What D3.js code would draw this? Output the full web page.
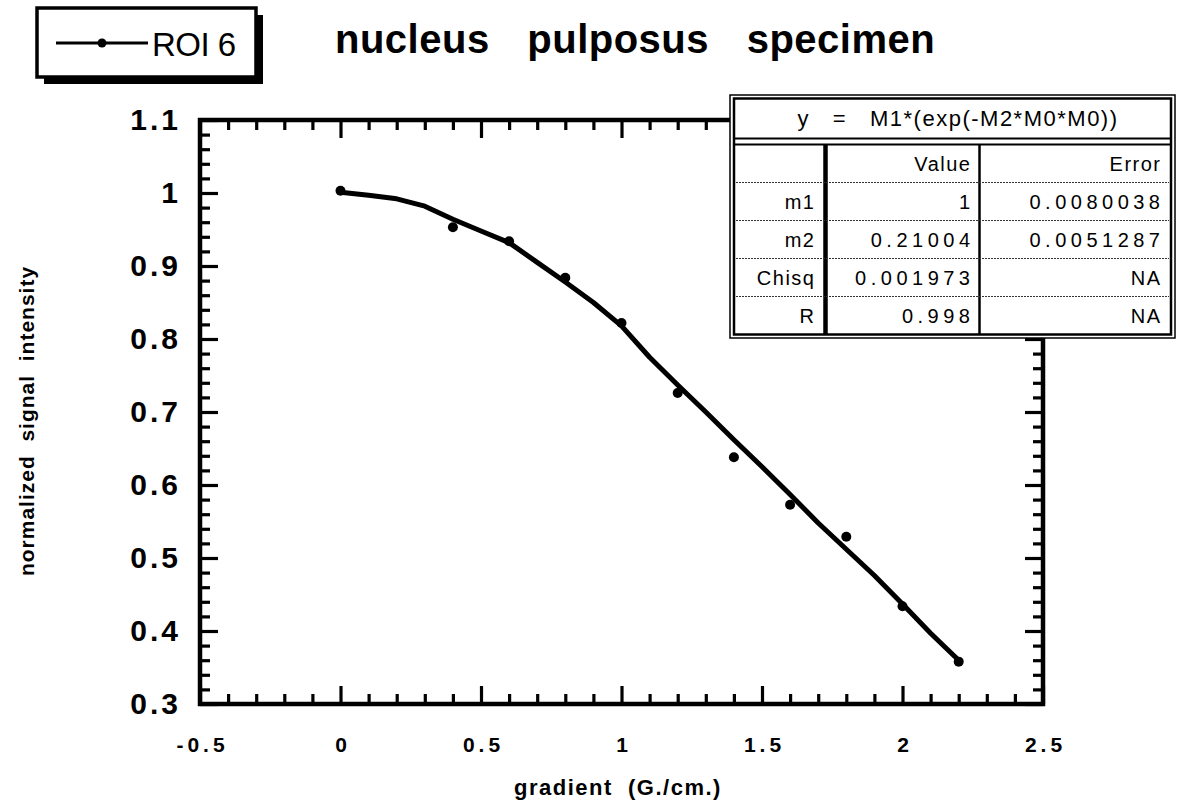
<!DOCTYPE html>
<html>
<head>
<meta charset="utf-8">
<script src="https://cdn.jsdelivr.net/npm/d3@7"></script>
<style>
  body { margin: 0; background: #fff; }
  svg { display: block; font-family: "Liberation Sans", Arial, Helvetica, sans-serif; }
</style>
</head>
<body>
<div id="chart"></div>
<script>
// measured points (gradient G/cm, normalized signal)
const gradient = [0, 0.4, 0.6, 0.8, 1.0, 1.2, 1.4, 1.6, 1.8, 2.0, 2.2];
const signal = [1.003, 0.953, 0.934, 0.884, 0.822, 0.726, 0.638, 0.573, 0.529, 0.434, 0.358];
// fitted curve
const fitX = [0, 0.1, 0.2, 0.3, 0.4, 0.5, 0.6, 0.7, 0.8, 0.9, 1.0, 1.1, 1.2, 1.3, 1.4, 1.5, 1.6, 1.7, 1.8, 1.9, 2.0, 2.1, 2.2];
const fitY = [1.001, 0.997, 0.992, 0.982, 0.964, 0.948, 0.932, 0.905, 0.878, 0.850, 0.818, 0.775, 0.737, 0.700, 0.662, 0.625, 0.587, 0.548, 0.512, 0.476, 0.437, 0.397, 0.360];

const xTicks = [-0.5, 0, 0.5, 1, 1.5, 2, 2.5];
const xTickLabels = ["-0.5", "0", "0.5", "1", "1.5", "2", "2.5"];
const yTicks = [0.3, 0.4, 0.5, 0.6, 0.7, 0.8, 0.9, 1.0, 1.1];
const yTickLabels = ["0.3", "0.4", "0.5", "0.6", "0.7", "0.8", "0.9", "1", "1.1"];

// fit table
const fitEquation = "y   =   M1*(exp(-M2*M0*M0))";
const tableCols = ["", "Value", "Error"];
const paramNames = ["m1", "m2", "Chisq", "R"];
const paramValues = ["1", "0.21004", "0.001973", "0.998"];
const paramErrors = ["0.0080038", "0.0051287", "NA", "NA"];

const W = 1180, H = 803;
const svg = d3.select("#chart").append("svg").attr("width", W).attr("height", H);

const x = d3.scaleLinear().domain([-0.5, 2.5]).range([200, 1043]);
const y = d3.scaleLinear().domain([0.3, 1.1]).range([704, 120]);

const xMinor = x.ticks(30).filter(d => !xTicks.some(t => Math.abs(t - d) < 1e-6));
const yMinor = y.ticks(40).filter(d => !yTicks.some(t => Math.abs(t - d) < 1e-6));

function styleAxis(g) {
  g.select(".domain").remove();
  g.selectAll(".tick line").attr("stroke", "#000").attr("stroke-width", 3.2);
}

// major ticks + labels
svg.append("g").attr("transform", "translate(0,704)")
  .call(d3.axisBottom(x).tickValues(xTicks).tickSize(-18).tickPadding(33).tickFormat((d, i) => xTickLabels[i]))
  .call(styleAxis)
  .selectAll("text").attr("font-size", 21).attr("font-weight", "bold").attr("fill", "#000")
  .attr("font-family", "Liberation Sans, Arial, sans-serif").style("letter-spacing", "4px").attr("dx", 2);
svg.append("g").attr("transform", "translate(0,120)")
  .call(d3.axisTop(x).tickValues(xTicks).tickSize(-18).tickFormat(""))
  .call(styleAxis);
svg.append("g").attr("transform", "translate(200,0)")
  .call(d3.axisLeft(y).tickValues(yTicks).tickSize(-18).tickPadding(19).tickFormat((d, i) => yTickLabels[i]))
  .call(styleAxis)
  .selectAll("text").attr("font-size", 30).attr("font-weight", "bold").attr("fill", "#000")
  .attr("font-family", "Liberation Sans, Arial, sans-serif").style("letter-spacing", "3px");
svg.append("g").attr("transform", "translate(1043,0)")
  .call(d3.axisRight(y).tickValues(yTicks).tickSize(-18).tickFormat(""))
  .call(styleAxis);

// minor ticks
svg.append("g").attr("transform", "translate(0,704)")
  .call(d3.axisBottom(x).tickValues(xMinor).tickSize(-10).tickFormat("")).call(styleAxis);
svg.append("g").attr("transform", "translate(0,120)")
  .call(d3.axisTop(x).tickValues(xMinor).tickSize(-10).tickFormat("")).call(styleAxis);
svg.append("g").attr("transform", "translate(200,0)")
  .call(d3.axisLeft(y).tickValues(yMinor).tickSize(-10).tickFormat("")).call(styleAxis);
svg.append("g").attr("transform", "translate(1043,0)")
  .call(d3.axisRight(y).tickValues(yMinor).tickSize(-10).tickFormat("")).call(styleAxis);

// frame
svg.append("rect").attr("x", 200).attr("y", 120).attr("width", 843).attr("height", 584)
  .attr("fill", "none").attr("stroke", "#000").attr("stroke-width", 4.5);

// fit line
const line = d3.line().x(d => x(d[0])).y(d => y(d[1]));
svg.append("path").datum(fitX.map((v, i) => [v, fitY[i]]))
  .attr("d", line).attr("fill", "none").attr("stroke", "#000")
  .attr("stroke-width", 5).attr("stroke-linejoin", "round").attr("stroke-linecap", "round");

// points
svg.selectAll(".pt").data(gradient).enter().append("circle")
  .attr("cx", d => x(d)).attr("cy", (d, i) => y(signal[i])).attr("r", 5).attr("fill", "#000");

// axis titles
svg.append("text").attr("x", 618).attr("y", 795).attr("text-anchor", "middle")
  .attr("font-size", 22).attr("font-weight", "bold").style("letter-spacing", "1.5px")
  .attr("xml:space", "preserve").text("gradient  (G./cm.)");
svg.append("text").attr("transform", "translate(34,421) rotate(-90)").attr("text-anchor", "middle")
  .attr("font-size", 21).attr("font-weight", "bold").style("letter-spacing", "1px")
  .attr("xml:space", "preserve").text("normalized  signal  intensity");

// title
svg.append("text").attr("x", 335).attr("y", 53).attr("font-size", 40).attr("font-weight", "bold")
  .style("letter-spacing", "0.5px").style("word-spacing", "26px").text("nucleus pulposus specimen");

// legend box
svg.append("rect").attr("x", 44).attr("y", 15).attr("width", 219).attr("height", 69).attr("fill", "#000");
svg.append("rect").attr("x", 37).attr("y", 8).attr("width", 219).attr("height", 69)
  .attr("fill", "#fff").attr("stroke", "#000").attr("stroke-width", 3.5);
svg.append("line").attr("x1", 56).attr("x2", 148).attr("y1", 43).attr("y2", 43)
  .attr("stroke", "#000").attr("stroke-width", 3);
svg.append("circle").attr("cx", 102).attr("cy", 43).attr("r", 4.5).attr("fill", "#000");
svg.append("text").attr("x", 152).attr("y", 56).attr("font-size", 33).style("letter-spacing", "-0.5px").text("ROI 6");

// fit table
const tb = svg.append("g");
tb.append("rect").attr("x", 730).attr("y", 95).attr("width", 445).attr("height", 243)
  .attr("fill", "#fff").attr("stroke", "#000").attr("stroke-width", 1.5);
tb.append("rect").attr("x", 734).attr("y", 98.5).attr("width", 437).attr("height", 236)
  .attr("fill", "none").attr("stroke", "#000").attr("stroke-width", 2.5);
tb.append("line").attr("x1", 734).attr("x2", 1171).attr("y1", 138.5).attr("y2", 138.5)
  .attr("stroke", "#000").attr("stroke-width", 2);
tb.append("line").attr("x1", 734).attr("x2", 1171).attr("y1", 144.5).attr("y2", 144.5)
  .attr("stroke", "#000").attr("stroke-width", 2);
tb.append("line").attr("x1", 825.5).attr("x2", 825.5).attr("y1", 144).attr("y2", 334.5)
  .attr("stroke", "#000").attr("stroke-width", 4.5);
tb.append("line").attr("x1", 979.5).attr("x2", 979.5).attr("y1", 144).attr("y2", 334.5)
  .attr("stroke", "#000").attr("stroke-width", 2.5);

const rowH = 38, row0 = 144.5;
tb.selectAll(".rowline").data(paramNames).enter().append("line")
  .attr("x1", 736).attr("x2", 1169)
  .attr("y1", (d, i) => row0 + rowH * (i + 1)).attr("y2", (d, i) => row0 + rowH * (i + 1))
  .attr("stroke", "#333").attr("stroke-width", 1.2).attr("stroke-dasharray", "2,1");

tb.append("text").attr("x", 958).attr("y", 118).attr("dy", "0.35em").attr("text-anchor", "middle")
  .attr("font-size", 22).style("letter-spacing", "1.5px").attr("xml:space", "preserve").text(fitEquation);

const colRight = [814, 970, 1160];
function cell(txt, col, row, numeric) {
  const ls = numeric ? 4.5 : 1.5;
  tb.append("text").attr("x", colRight[col] + ls).attr("y", row0 + rowH * row + rowH / 2).attr("dy", "0.36em")
    .attr("text-anchor", "end").attr("font-size", 20).style("letter-spacing", ls + "px").text(txt);
}
tableCols.forEach((c, j) => cell(c, j, 0, false));
paramNames.forEach((n, i) => {
  cell(n, 0, i + 1, false);
  cell(paramValues[i], 1, i + 1, true);
  cell(paramErrors[i], 2, i + 1, paramErrors[i] !== "NA");
});
</script>
</body>
</html>
